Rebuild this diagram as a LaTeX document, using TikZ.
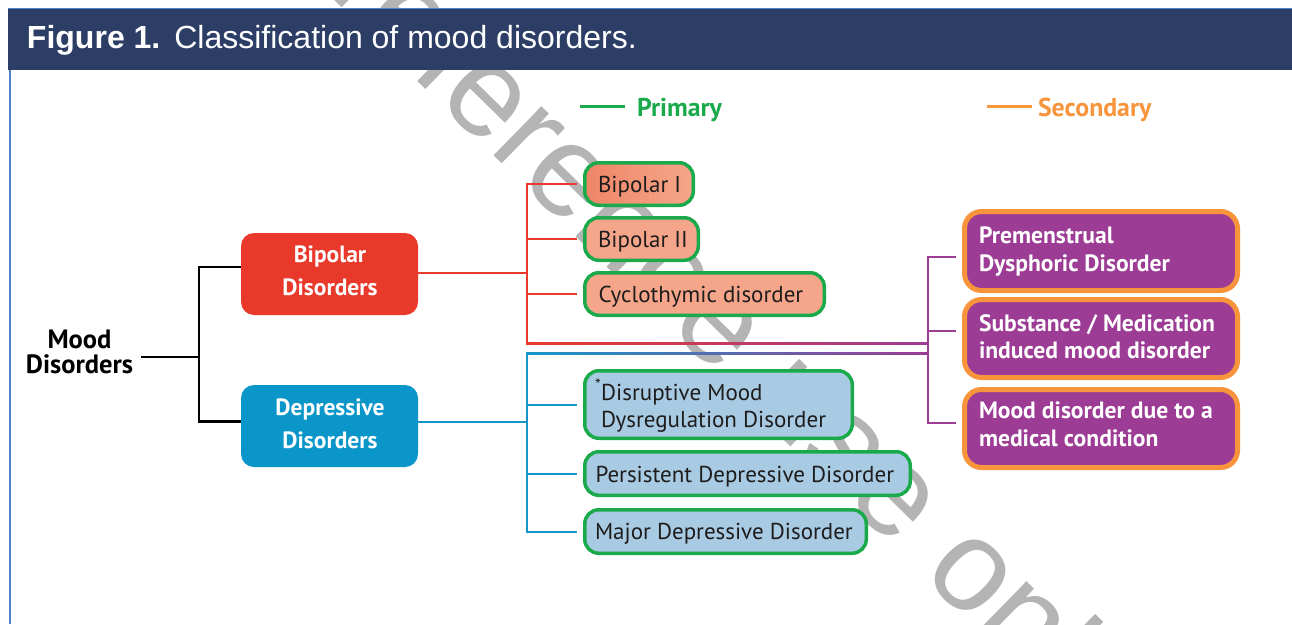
\documentclass[tikz,border=0pt]{standalone}
\usepackage{fontspec}
\newfontfamily\ptsans{PT Sans}
\newfontfamily\arialf{Liberation Sans}
\usetikzlibrary{calc}
\definecolor{navy}{HTML}{2D3E66}
\definecolor{frameblue}{HTML}{4F81C4}
\definecolor{bipred}{HTML}{E8392A}
\definecolor{depblue}{HTML}{0A96C8}
\definecolor{salmon}{HTML}{F5A68A}
\definecolor{salmondark}{HTML}{EF8668}
\definecolor{lightblue}{HTML}{A8CBE3}
\definecolor{gborder}{HTML}{1AAA4B}
\definecolor{purp}{HTML}{9C3C94}
\definecolor{orng}{HTML}{F7943C}
\definecolor{wmgray}{HTML}{B4B4B4}
\definecolor{redline}{HTML}{E8392A}
\definecolor{blueline}{HTML}{1496C8}
\definecolor{txtdark}{HTML}{1E1C1C}
\begin{document}
\begin{tikzpicture}[x=1pt,y=-1pt,
  every node/.style={inner sep=0pt, outer sep=0pt},
  mainbox/.style={anchor=north west, rounded corners=13pt, minimum width=177pt, minimum height=82pt},
  gbox/.style={anchor=north west, draw=gborder, line width=3.5pt, rounded corners=14pt},
  pbox/.style={anchor=north west, draw=orng, fill=purp, line width=5pt, rounded corners=17pt, minimum width=273pt},
  ltxt/.style={anchor=base west, align=left, font=\ptsans\fontsize{23}{27}\selectfont, text=txtdark},
  wtxt/.style={anchor=base west, align=left, font=\ptsans\bfseries\fontsize{23.6}{27.5}\selectfont, text=white},
  mtxt/.style={anchor=base, align=center, font=\ptsans\bfseries\fontsize{23.5}{33}\selectfont, text=white},
  legtxt/.style={anchor=base west, font=\ptsans\bfseries\fontsize{25.8}{25.8}\selectfont},
  redl/.style={draw=redline, line width=2pt},
  bluel/.style={draw=blueline, line width=2pt},
  purl/.style={draw=purp, line width=2pt},
  blkl/.style={draw=black, line width=2.5pt},
]
\useasboundingbox[fill=white] (0,0) rectangle (1292,624);

% watermark
\begin{scope}
\clip (0,0) rectangle (1292,624);
\node[anchor=base west, rotate=-44.4, text=wmgray, font=\arialf\fontsize{130}{130}\selectfont] (wm) at (327,-7) {reference use only};
\end{scope}

% header
\node[fill=navy, anchor=north west, minimum width=1284pt, minimum height=62pt] (hdr) at (8,8) {};
\draw[frameblue, line width=1pt] (hdr.north west) -- (hdr.north east);
\coordinate (fl) at (10,70);
\coordinate (fb) at (10,624);
\draw[frameblue, line width=2pt] (fl) -- (fb);
\node[anchor=base west, text=white, font=\arialf\fontsize{32}{32}\selectfont] (title) at (27,48) {\textbf{Figure 1.}\hspace{14pt}Classification of mood disorders.};

% legend
\coordinate (lg1a) at (580,106.5);
\coordinate (lg1b) at (625,106.5);
\draw[gborder, line width=3pt] (lg1a) -- (lg1b);
\node[legtxt, text=gborder] (prim) at (637,116.5) {Primary};
\coordinate (lg2a) at (987,106.5);
\coordinate (lg2b) at (1032,106.5);
\draw[orng, line width=3pt] (lg2a) -- (lg2b);
\node[legtxt, text=orng] (sec) at (1038,116.5) {Secondary};

% root
\node[anchor=base, align=center, font=\ptsans\bfseries\fontsize{26.5}{24.5}\selectfont] (mood) at (79.5,373) {Mood\\Disorders};

% main boxes
\node[mainbox, fill=bipred] (bip) at (241,233) {};
\node[mtxt] (biptxt) at (330,295) {Bipolar\\Disorders};
\node[mainbox, fill=depblue] (dep) at (241,385) {};
\node[mtxt] (deptxt) at (330,448) {Depressive\\Disorders};

% primary boxes
\node[gbox, left color=salmondark, middle color=salmon, right color=salmon, minimum width=108.5pt, minimum height=42.5pt] (b1) at (584.75,162.75) {};
\node[gbox, fill=salmon, minimum width=113.5pt, minimum height=42.5pt] (b2) at (584.75,217.75) {};
\node[gbox, fill=salmon, minimum width=239.5pt, minimum height=42.5pt] (b3) at (584.75,272.75) {};
\node[gbox, fill=lightblue, minimum width=267.5pt, minimum height=67.5pt] (d1) at (584.75,370.75) {};
\node[gbox, fill=lightblue, minimum width=325.5pt, minimum height=43.5pt] (d2) at (584.75,451.75) {};
\node[gbox, fill=lightblue, minimum width=281.5pt, minimum height=43.5pt] (d3) at (584.75,509.75) {};
\node[ltxt] (b1t) at (598,192.5) {Bipolar I};
\node[ltxt] (b2t) at (598,247.5) {Bipolar II};
\node[ltxt] (b3t) at (598.5,302) {Cyclothymic disorder};
\node[ltxt] (d1t) at (595,427) {\textsuperscript{*}Disruptive Mood\\\hspace*{6pt}Dysregulation Disorder};
\node[ltxt] (d2t) at (595.5,482) {Persistent Depressive Disorder};
\node[ltxt] (d3t) at (595,539.5) {Major Depressive Disorder};

% secondary boxes
\node[pbox, minimum height=79pt] (p1) at (964.5,211.5) {};
\node[pbox, minimum height=78pt] (p2) at (964.5,299.5) {};
\node[pbox, minimum height=78pt] (p3) at (964.5,389.5) {};
\node[wtxt] (p1t) at (979,271) {Premenstrual\\Dysphoric Disorder};
\node[wtxt] (p2t) at (979,358.5) {Substance / Medication\\induced mood disorder};
\node[wtxt] (p3t) at (979,446) {Mood disorder due to a\\medical condition};

% black connectors
\coordinate (mj) at (199,357);
\draw[blkl, shorten <=8pt] (mood.east |- mj) -- (mj);
\draw[blkl] ([yshift=7pt]bip.west) -| (mj) |- ([yshift=4.5pt]dep.west);

% red connectors
\coordinate (rb) at (527,343.5);
\coordinate (pb) at (928,343.5);
\draw[redl] ([yshift=1pt]bip.east) -- ([yshift=1pt]bip.east -| rb);
\draw[redl, shorten >=7.5pt] (rb) |- (b1.west);
\draw[redl, shorten >=7.5pt] (b2.west -| rb) -- (b2.west);
\draw[redl, shorten >=7.5pt] (b3.west -| rb) -- (b3.west);
\shade[left color=redline, right color=purp] ($(rb)+(-1,-1)$) rectangle ($(pb)+(0,1)$);

% blue connectors
\coordinate (bt) at (527,353.3);
\coordinate (pt) at (928,353.3);
\draw[bluel] ([yshift=4.5pt]dep.east) -- ([yshift=4.5pt]dep.east -| bt);
\draw[bluel, shorten >=7.5pt] (bt) |- (d3.west);
\draw[bluel, shorten >=7.5pt] (d1.west -| bt) -- (d1.west);
\draw[bluel, shorten >=7.5pt] (d2.west -| bt) -- (d2.west);
\shade[left color=blueline, right color=purp] ($(bt)+(-1,-1)$) rectangle ($(pt)+(0,1)$);

% purple connectors
\coordinate (pp1) at (928,257);
\coordinate (pp2) at (928,331);
\coordinate (pp3) at (928,423);
\draw[purl] ([yshift=1pt]pp1) -- ([yshift=-1pt]pp3);
\draw[purl, shorten >=9pt] (pp1) -- (pp1 -| p1.west);
\draw[purl, shorten >=9pt] (pp2) -- (pp2 -| p2.west);
\draw[purl, shorten >=9pt] (pp3) -- (pp3 -| p3.west);
\end{tikzpicture}
\end{document}
